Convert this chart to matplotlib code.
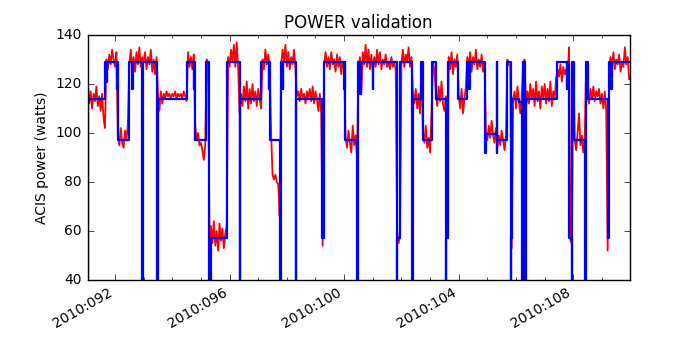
import numpy as np
import matplotlib
matplotlib.use('Agg')
import matplotlib.pyplot as plt
from matplotlib.ticker import MultipleLocator, FuncFormatter

# ---------------------------------------------------------------
# Model (blue): step changes, time in 2010 day-of-year, power in W
# ---------------------------------------------------------------
model_day = [91.04, 91.055, 91.07, 91.66, 91.72, 91.735, 92.06, 92.075, 92.09,
             92.48, 92.61, 92.625, 92.96, 92.975, 92.99, 93.48, 93.50, 94.52,
             94.76, 94.775, 94.79, 95.16, 95.28, 95.30, 95.32, 95.34, 95.91,
             96.35, 96.37, 97.11, 97.37, 97.385, 97.40, 97.75, 97.78, 97.86,
             97.875, 98.31, 98.33, 99.23, 99.30, 100.01, 100.025, 100.04,
             100.46, 100.50, 100.57, 100.585, 101.00, 101.015, 101.84, 101.86,
             101.96, 102.38, 102.41, 102.69, 102.75, 103.08, 103.20, 103.55,
             103.57, 103.63, 103.99, 104.28, 104.37, 104.385, 104.93, 104.945,
             105.32, 105.335, 105.35, 105.67, 105.81, 105.83, 105.85, 106.12,
             106.21, 106.23, 106.31, 106.35, 107.44, 107.78, 107.795, 107.86,
             107.95, 107.97, 108.01, 108.41, 108.43, 108.50, 109.20, 109.26,
             109.33, 109.345, 109.98]
model_watts = [0, 118, 114, 129, 121, 129, 118, 129, 97,
               129, 118, 129, 0, 57, 129, 0, 114, 129,
               118, 129, 97, 129, 0, 57, 0, 57, 129,
               0, 114, 129, 118, 129, 97, 0, 129, 118,
               129, 0, 114, 57, 129, 118, 129, 97,
               0, 129, 116, 129, 118, 129, 0, 57,
               129, 0, 114, 129, 97, 129, 114, 0,
               57, 129, 114, 129, 118, 129, 92, 99.5,
               129, 92, 97, 129, 0, 57, 114, 112.5,
               0, 129, 0, 114, 129, 118, 129, 57,
               0, 129, 97, 0, 129, 114, 57, 129,
               118, 129, 129]

# ---------------------------------------------------------------
# Telemetry (red): one row per day, samples every 0.05 day
# ---------------------------------------------------------------
tlm_first_day = 91
tlm_step = 0.05
tlm_watts = [
    [118, 118, 112, 117, 110, 116, 113, 119, 111, 115, 109, 116, 106, 102, 130, 126, 132, 128, 134, 130],  # 091
    [127, 133, 99, 95, 102, 96, 94, 101, 97, 104, 128, 134, 126, 131, 125, 133, 128, 135, 127, 131],  # 092
    [129, 133, 126, 131, 128, 134, 125, 130, 124, 131, 116, 109, 117, 112, 116, 114, 117, 115, 116, 114],  # 093
    [116, 115, 117, 114, 116, 115, 116, 114, 117, 115, 113, 133, 127, 131, 126, 132, 103, 97, 100, 95],  # 094
    [96, 93, 89, 95, 130, 128, 57, 62, 55, 64, 54, 60, 52, 63, 56, 61, 53, 59, 62, 131],  # 095
    [127, 134, 129, 136, 127, 137, 126, 108, 116, 111, 119, 113, 121, 110, 118, 112, 120, 113, 117, 111],  # 096
    [118, 114, 110, 130, 126, 134, 128, 132, 127, 100, 83, 81, 83, 80, 79, 66, 128, 134, 129, 136],  # 097
    [127, 133, 126, 131, 128, 134, 126, 115, 117, 113, 118, 114, 116, 112, 117, 114, 118, 113, 119, 112],  # 098
    [117, 114, 109, 116, 108, 54, 128, 133, 127, 131, 126, 133, 128, 130, 125, 132, 127, 131, 124, 129],  # 099
    [126, 98, 94, 101, 96, 92, 103, 95, 99, 90, 126, 131, 116, 133, 128, 136, 127, 134, 126, 132],  # 100
    [125, 131, 127, 134, 128, 133, 126, 130, 128, 132, 127, 129, 126, 131, 127, 129, 126, 60, 55, 58],  # 101
    [128, 134, 127, 132, 129, 135, 127, 131, 117, 112, 118, 110, 116, 108, 128, 100, 96, 103, 94, 98],  # 102
    [92, 108, 129, 126, 117, 111, 119, 113, 121, 112, 109, 115, 58, 131, 126, 133, 124, 130, 127, 132],  # 103
    [116, 110, 118, 108, 114, 119, 131, 127, 133, 125, 131, 128, 134, 126, 130, 127, 132, 125, 129, 101],  # 104
    [97, 103, 98, 105, 99, 96, 102, 94, 99, 95, 101, 97, 93, 99, 130, 128, 127, 53, 114, 117],  # 105
    [110, 119, 113, 108, 115, 129, 130, 110, 117, 112, 120, 114, 118, 111, 121, 113, 117, 110, 119, 114],  # 106
    [120, 112, 118, 113, 121, 111, 117, 114, 122, 126, 123, 128, 121, 127, 124, 126, 120, 135, 56, 55],  # 107
    [129, 97, 93, 100, 108, 95, 99, 92, 98, 129, 115, 112, 118, 114, 119, 113, 117, 115, 118, 112],  # 108
    [116, 110, 117, 109, 52, 126, 131, 127, 133, 126, 130, 128, 132, 125, 129, 127, 135, 128, 131, 122],  # 109
]

tlm_vals = np.concatenate([np.array(row, dtype=float) for row in tlm_watts])
tlm_day = tlm_first_day + tlm_step * np.arange(len(tlm_vals))

plt.style.use('classic')
plt.rc('axes', labelsize=10, titlesize=12)
plt.rc('xtick', labelsize=10)
plt.rc('ytick', labelsize=10)

fig, ax = plt.subplots(figsize=(7, 3.5), dpi=100)
ax.plot(tlm_day, tlm_vals, '-r', linewidth=1.3)
ax.step(model_day, model_watts, '-b', where='post', linewidth=1.6)

ax.set_xlim(model_day[0], model_day[-1])
ax.set_ylim(40, 140)
ax.xaxis.set_major_locator(MultipleLocator(4))
ax.xaxis.set_minor_locator(MultipleLocator(1))
ax.xaxis.set_major_formatter(FuncFormatter(lambda v, pos: "2010:%03d" % int(round(v))))

ax.set_title('POWER validation')
ax.set_ylabel('ACIS power (watts)')
fig.autofmt_xdate()
fig.subplots_adjust(left=0.125, right=0.9, top=0.9, bottom=0.2)
fig.savefig('out.png', dpi=100, facecolor='white')
